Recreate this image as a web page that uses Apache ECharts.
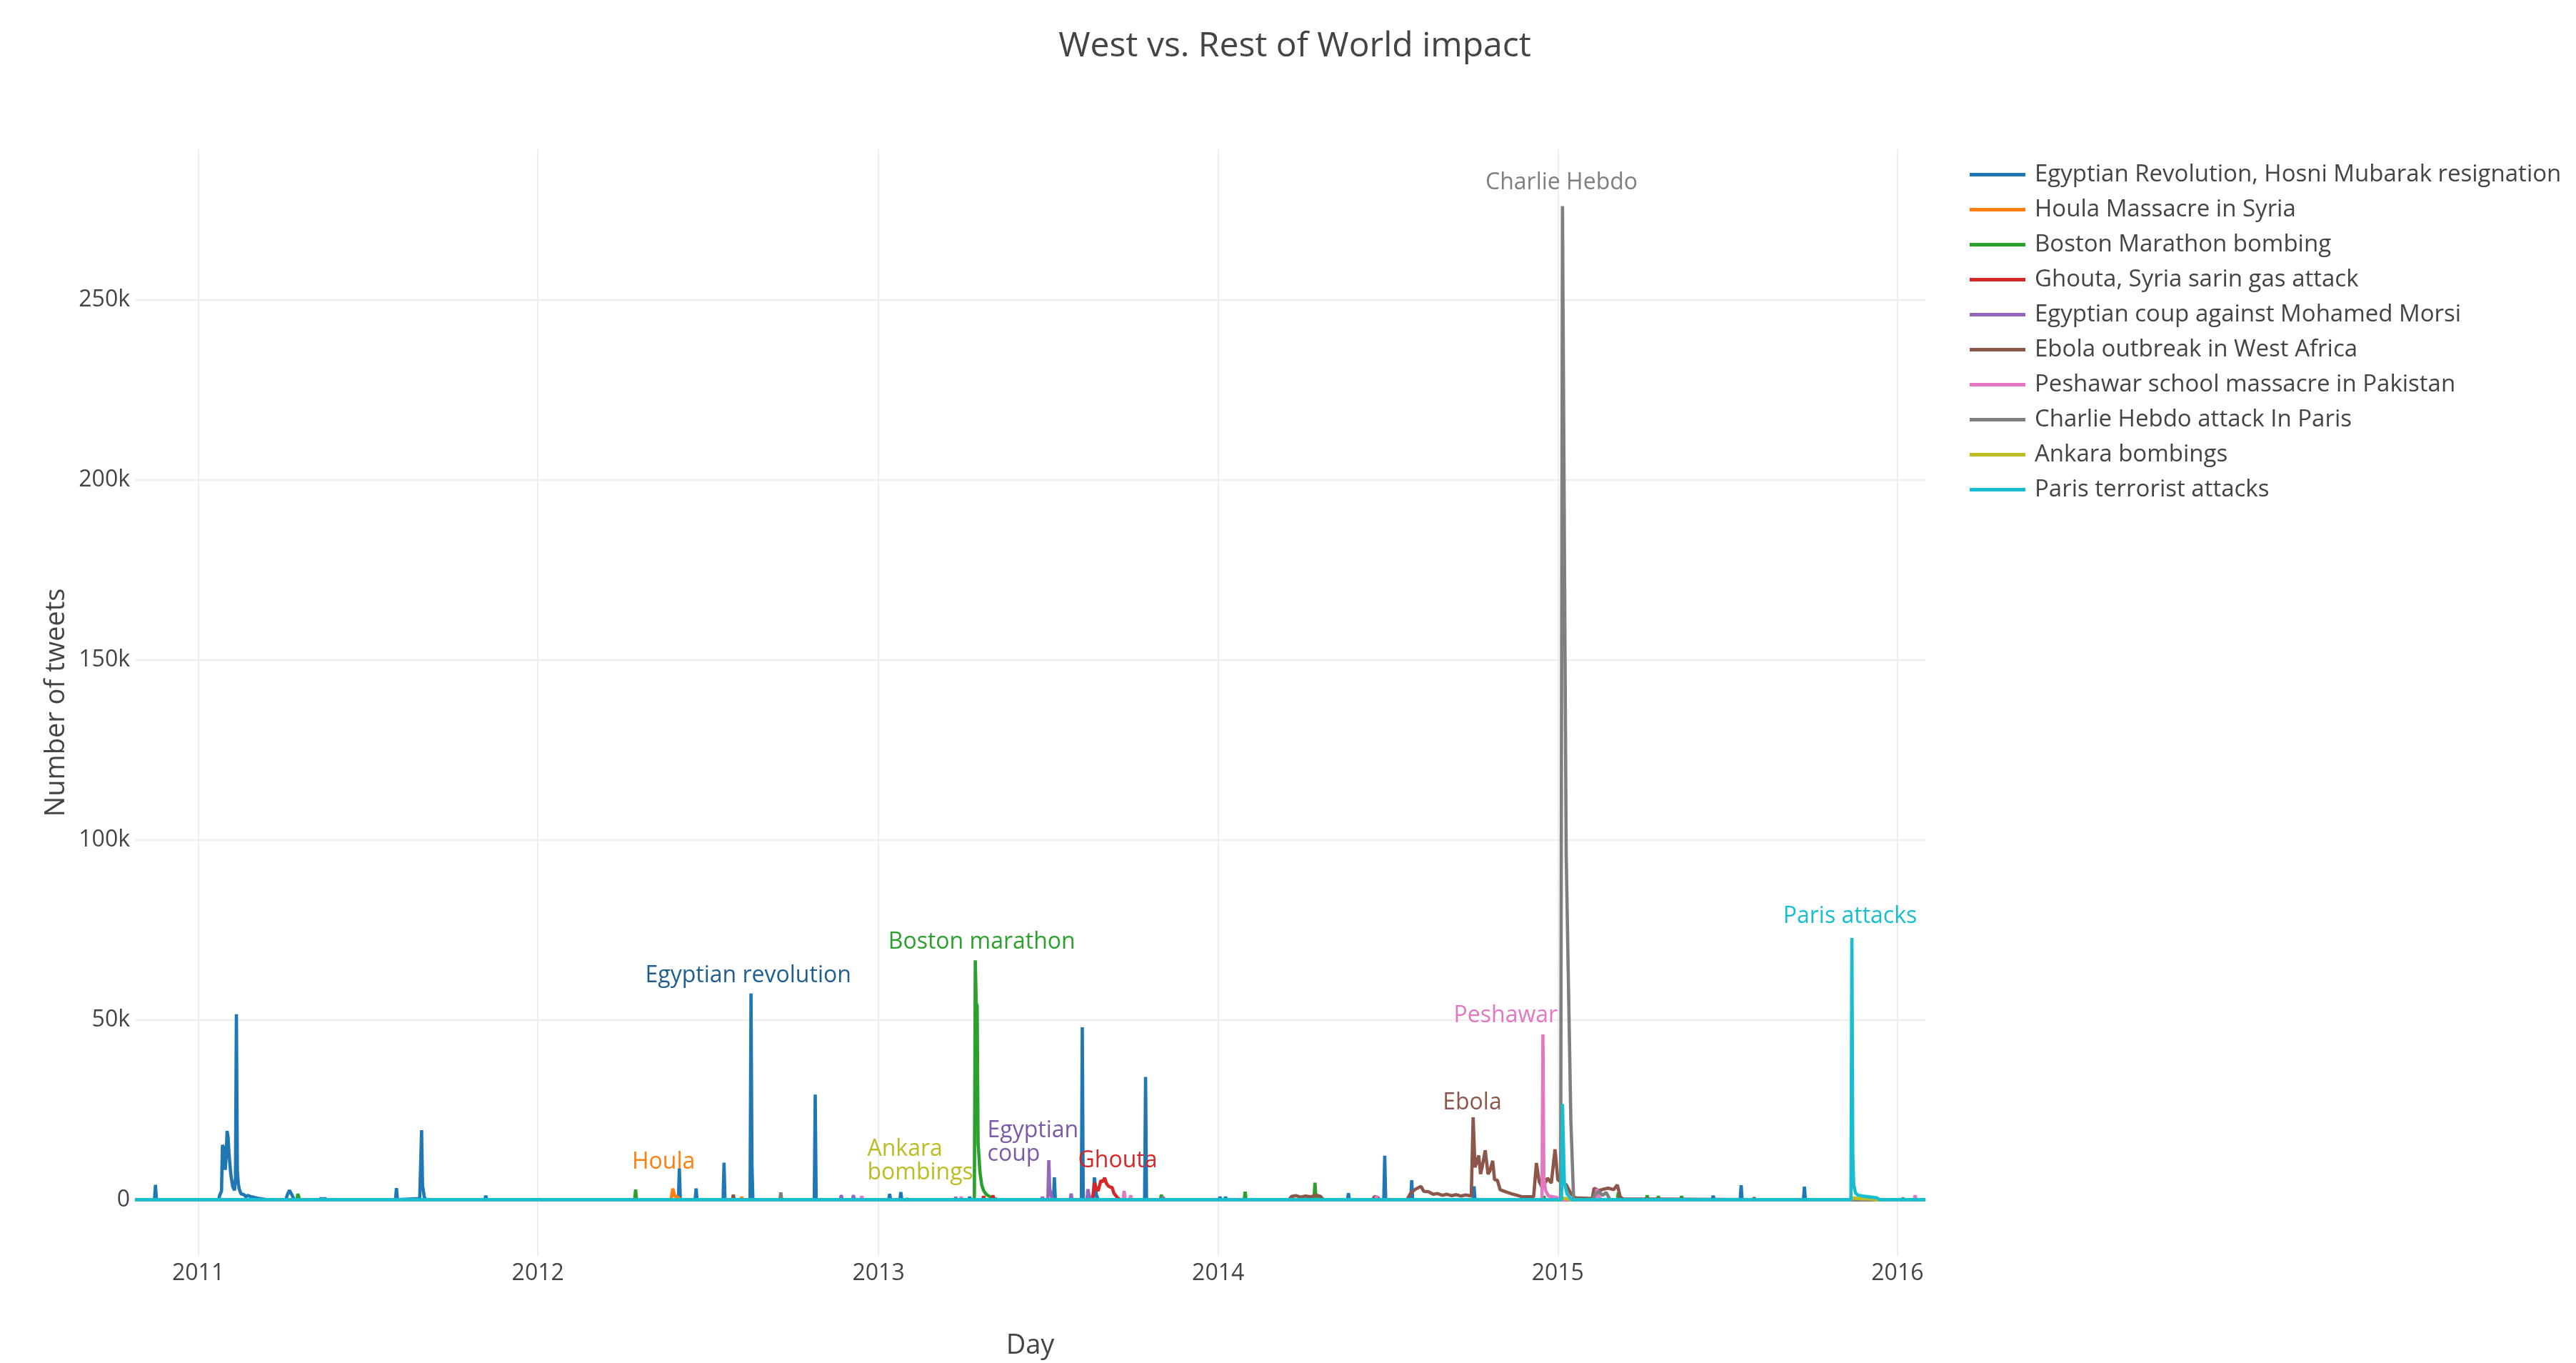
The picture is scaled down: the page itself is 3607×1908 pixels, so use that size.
<!DOCTYPE html>
<html>
<head>
<meta charset="utf-8">
<script src="https://cdn.jsdelivr.net/npm/echarts@6/dist/echarts.min.js"></script>
<style>
html,body{margin:0;padding:0;background:#fff;}
#chart{width:3607px;height:1908px;}
</style>
</head>
<body>
<div id="chart"></div>
<script>
// ---------------- DATA ----------------
const seriesNames = [
  'Egyptian Revolution, Hosni Mubarak resignation',
  'Houla Massacre in Syria',
  'Boston Marathon bombing',
  'Ghouta, Syria sarin gas attack',
  'Egyptian coup against Mohamed Morsi',
  'Ebola outbreak in West Africa',
  'Peshawar school massacre in Pakistan',
  'Charlie Hebdo attack In Paris',
  'Ankara bombings',
  'Paris terrorist attacks'
];

const egyptRevolution = [
  ['2010-10-25',0],
  ['2010-11-15',0],['2010-11-16',4100],['2010-11-17',0],
  ['2011-01-23',0],['2011-01-24',1200],['2011-01-26',2400],['2011-01-27',15200],['2011-01-28',14600],['2011-01-30',8300],['2011-01-31',12000],['2011-02-01',19100],['2011-02-02',17500],['2011-02-03',13000],['2011-02-05',7000],['2011-02-07',3700],['2011-02-09',2600],['2011-02-10',6000],['2011-02-11',51500],['2011-02-12',8300],['2011-02-13',4500],['2011-02-14',3000],['2011-02-16',1600],['2011-02-19',1400],['2011-02-21',800],['2011-02-23',1200],['2011-02-27',800],['2011-03-08',300],['2011-03-15',0],
  ['2011-04-05',0],['2011-04-07',1500],['2011-04-09',2600],['2011-04-10',2800],['2011-04-12',1200],['2011-04-14',0],
  ['2011-05-12',0],['2011-05-13',500],['2011-05-14',0],['2011-05-16',0],['2011-05-17',500],['2011-05-18',0],
  ['2011-08-01',0],['2011-08-02',3200],['2011-08-03',0],
  ['2011-08-27',300],['2011-08-29',19300],['2011-08-30',4000],['2011-09-01',600],['2011-09-03',0],
  ['2011-11-05',0],['2011-11-06',1100],['2011-11-07',0],
  ['2012-05-31',0],['2012-06-01',8700],['2012-06-02',0],
  ['2012-06-18',0],['2012-06-19',3100],['2012-06-20',0],
  ['2012-07-18',0],['2012-07-19',10300],['2012-07-20',0],
  ['2012-08-16',0],['2012-08-17',57300],['2012-08-18',10000],['2012-08-19',0],
  ['2012-10-24',0],['2012-10-25',29200],['2012-10-26',0],
  ['2013-01-12',0],['2013-01-13',1600],['2013-01-14',0],['2013-01-24',0],['2013-01-25',2100],['2013-01-26',0],
  ['2013-04-08',0],['2013-04-09',800],['2013-04-10',0],
  ['2013-07-08',0],['2013-07-09',6200],['2013-07-10',0],
  ['2013-08-07',0],['2013-08-08',47900],['2013-08-09',0],
  ['2013-08-20',0],['2013-08-21',6200],['2013-08-23',1500],['2013-08-25',0],
  ['2013-10-14',0],['2013-10-15',34100],['2013-10-16',0],
  ['2014-01-02',0],['2014-01-03',800],['2014-01-04',0],['2014-01-08',0],['2014-01-09',800],['2014-01-10',0],
  ['2014-05-20',0],['2014-05-21',1800],['2014-05-22',0],
  ['2014-06-28',0],['2014-06-29',12200],['2014-06-30',0],
  ['2014-07-27',0],['2014-07-28',5400],['2014-07-29',0],
  ['2014-10-02',0],['2014-10-03',3700],['2014-10-04',0],
  ['2015-06-16',0],['2015-06-17',1100],['2015-06-18',0],
  ['2015-07-16',0],['2015-07-17',4000],['2015-07-18',0],
  ['2015-09-22',0],['2015-09-23',3600],['2015-09-24',0],
  ['2016-01-31',0]
];

const houlaMassacre = [
  ['2010-10-25',0],
  ['2012-05-23',0],['2012-05-25',3100],['2012-05-27',1000],['2012-05-30',800],['2012-06-02',0],
  ['2012-08-06',0],['2012-08-07',800],['2012-08-08',0],
  ['2016-01-31',0]
];

const bostonMarathon = [
  ['2010-10-25',0],
  ['2011-04-17',0],['2011-04-18',1600],['2011-04-20',0],
  ['2012-04-14',0],['2012-04-15',2800],['2012-04-16',0],
  ['2013-04-14',0],['2013-04-15',66500],['2013-04-16',54500],['2013-04-17',54000],['2013-04-18',15600],['2013-04-19',12000],['2013-04-20',7700],['2013-04-22',4000],['2013-04-24',2500],['2013-04-27',1400],['2013-05-03',500],['2013-05-10',0],
  ['2013-10-31',0],['2013-11-01',1400],['2013-11-02',0],
  ['2014-01-29',0],['2014-01-30',2200],['2014-01-31',0],
  ['2014-04-14',0],['2014-04-15',4700],['2014-04-16',800],['2014-04-17',1500],['2014-04-18',0],
  ['2014-12-16',0],['2014-12-17',1000],['2014-12-18',0],
  ['2015-03-06',0],['2015-03-07',2000],['2015-03-08',0],
  ['2015-04-06',0],['2015-04-07',1200],['2015-04-08',0],['2015-04-18',0],['2015-04-19',1000],['2015-04-20',0],
  ['2015-05-13',0],['2015-05-14',1000],['2015-05-15',0],
  ['2016-01-31',0]
];

const ghoutaAttack = [
  ['2010-10-25',0],
  ['2013-04-23',0],['2013-04-24',1000],['2013-04-25',0],['2013-05-03',0],['2013-05-04',1200],['2013-05-05',0],
  ['2013-08-19',0],['2013-08-21',4700],['2013-08-23',3000],['2013-08-25',2500],['2013-08-28',5300],['2013-08-30',5000],['2013-09-01',6100],['2013-09-03',4500],['2013-09-05',3800],['2013-09-07',3500],['2013-09-09',3400],['2013-09-11',1800],['2013-09-15',500],['2013-09-18',0],
  ['2016-01-31',0]
];

const egyptCoup = [
  ['2010-10-25',0],
  ['2012-11-21',0],['2012-11-22',1300],['2012-11-23',0],['2012-12-04',0],['2012-12-05',1300],['2012-12-06',0],
  ['2013-03-24',0],['2013-03-25',700],['2013-03-26',0],
  ['2013-06-25',0],['2013-06-26',700],['2013-06-28',0],
  ['2013-07-02',0],['2013-07-03',11000],['2013-07-04',3000],['2013-07-06',800],['2013-07-08',0],
  ['2013-07-26',0],['2013-07-27',1700],['2013-07-28',0],
  ['2013-08-13',0],['2013-08-14',2900],['2013-08-15',1500],['2013-08-17',0],
  ['2013-11-02',0],['2013-11-03',800],['2013-11-04',0],
  ['2016-01-31',0]
];

const ebolaOutbreak = [
  ['2010-10-25',0],
  ['2012-07-28',0],['2012-07-29',1400],['2012-07-30',0],
  ['2014-03-18',0],['2014-03-21',900],['2014-03-26',1100],['2014-03-31',700],['2014-04-05',1000],['2014-04-10',800],['2014-04-16',1200],['2014-04-21',900],['2014-04-24',0],
  ['2014-06-16',0],['2014-06-18',900],['2014-06-21',700],['2014-06-24',0],
  ['2014-07-23',0],['2014-07-27',1900],['2014-08-01',2900],['2014-08-07',3700],['2014-08-10',2300],['2014-08-15',2200],['2014-08-20',1500],['2014-08-25',1700],['2014-08-30',1200],['2014-09-04',1500],['2014-09-09',1100],['2014-09-14',1400],['2014-09-19',1000],['2014-09-24',1300],['2014-09-30',1000],
  ['2014-10-02',22900],['2014-10-04',9000],['2014-10-06',10500],['2014-10-08',12300],['2014-10-10',7100],['2014-10-12',9500],['2014-10-15',13700],['2014-10-18',7100],['2014-10-20',8000],['2014-10-23',10800],['2014-10-25',5600],['2014-10-28',5400],['2014-10-31',2800],['2014-11-06',2200],['2014-11-14',1500],['2014-11-24',800],['2014-12-06',800],
  ['2014-12-09',10200],['2014-12-12',5000],['2014-12-15',3500],['2014-12-18',4500],['2014-12-21',6000],['2014-12-25',4600],['2014-12-29',14000],['2015-01-01',5500],['2015-01-05',4800],['2015-01-10',4200],['2015-01-15',1700],['2015-01-20',500],['2015-02-07',300],
  ['2015-02-09',3200],['2015-02-14',2500],['2015-02-19',2900],['2015-02-24',3200],['2015-03-02',2800],['2015-03-06',4100],['2015-03-09',800],['2015-03-12',200],
  ['2015-07-30',0],['2015-07-31',600],['2015-08-01',0],
  ['2016-01-31',0]
];

const peshawarMassacre = [
  ['2010-10-25',0],
  ['2012-12-13',0],['2012-12-14',1000],['2012-12-15',0],
  ['2013-03-30',0],['2013-03-31',800],['2013-04-01',0],
  ['2013-09-21',0],['2013-09-22',2400],['2013-09-23',0],['2013-09-28',0],['2013-09-29',1200],['2013-09-30',0],
  ['2014-06-19',0],['2014-06-20',1000],['2014-06-21',0],
  ['2014-12-15',0],['2014-12-16',45900],['2014-12-17',5500],['2014-12-19',2500],['2014-12-22',1000],['2014-12-31',600],['2015-01-03',0],
  ['2015-02-10',0],['2015-02-12',3000],['2015-02-14',800],['2015-02-17',0],
  ['2016-01-19',0],['2016-01-20',1200],['2016-01-21',0],
  ['2016-01-31',0]
];

const charlieHebdo = [
  ['2010-10-25',0],
  ['2012-09-17',0],['2012-09-18',2000],['2012-09-19',0],
  ['2015-01-04',0],['2015-01-06',276000],['2015-01-10',96000],['2015-01-12',66000],['2015-01-15',22000],['2015-01-18',0],
  ['2015-02-08',0],['2015-02-10',1500],['2015-02-14',2300],['2015-02-18',1200],['2015-02-22',2000],['2015-02-26',0],
  ['2016-01-06',0],['2016-01-07',500],['2016-01-08',0],
  ['2016-01-31',0]
];

const ankaraBombings = [
  ['2010-10-25',0],
  ['2013-01-31',0],['2013-02-01',400],['2013-02-02',0],
  ['2015-01-04',0],['2015-01-06',400],['2015-01-10',300],['2015-01-14',0],
  ['2015-11-12',0],['2015-11-14',500],['2015-11-20',300],['2015-12-05',200],['2015-12-09',0],
  ['2016-01-31',0]
];

const parisAttacks = [
  ['2010-10-25',0],
  ['2015-01-05',0],['2015-01-06',26600],['2015-01-08',4800],['2015-01-11',1500],['2015-01-16',0],
  ['2015-11-12',0],['2015-11-13',72700],['2015-11-14',12000],['2015-11-15',4000],['2015-11-17',1800],['2015-11-20',1200],['2015-11-25',1000],['2015-12-01',800],['2015-12-10',500],['2015-12-13',0],
  ['2016-01-31',0]
];

const seriesColors = ['#1f77b4','#ff7f0e','#2ca02c','#d62728','#9467bd','#8c564b','#e377c2','#7f7f7f','#bcbd22','#17becf'];

const yearTickLabels = ['2011','2012','2013','2014','2015','2016'];
const yTickValues = [0, 50000, 100000, 150000, 200000, 250000];
const xRange = ['2010-10-25', '2016-01-31'];
const yRange = [-15600, 291800];

// annotation per series (same order as series)
const annotationTexts  = ['Egyptian revolution','Houla','Boston marathon','Ghouta','Egyptian\ncoup','Ebola','Peshawar','Charlie Hebdo','Ankara\nbombings','Paris attacks'];
const annotationDates  = ['2012-08-14','2012-05-15','2013-04-22','2013-09-15','2013-04-28','2014-10-01','2014-11-06','2015-01-05','2012-12-20','2015-11-11'];
const annotationValues = [62300, 10500, 71500, 10900, 15800, 26900, 51100, 282500, 10700, 78700];
const annotationColors = ['#1f5f8f','#ff7f0e','#2ca02c','#d62728','#7b5aa6','#8c564b','#e377c2','#7f7f7f','#bcbd22','#17becf'];
const annotationAlign  = ['center','center','center','center','left','center','center','center','left','center'];

// ---------------- CHART ----------------
const FONT = '"Open Sans", verdana, arial, sans-serif';
const toTime = s => { const p = s.split('-').map(Number); return Date.UTC(p[0], p[1]-1, p[2]); };
const yearTicks = yearTickLabels.map(y => toTime(y + '-01-01'));
const allData = [egyptRevolution, houlaMassacre, bostonMarathon, ghoutaAttack, egyptCoup, ebolaOutbreak, peshawarMassacre, charlieHebdo, ankaraBombings, parisAttacks];

const series = seriesNames.map((name, i) => ({
  name: name,
  type: 'line',
  data: allData[i].map(d => [toTime(d[0]), d[1]]),
  showSymbol: false,
  symbol: 'none',
  color: seriesColors[i],
  lineStyle: { width: 4.6, color: seriesColors[i] },
  emphasis: { disabled: true },
  animation: false,
  markPoint: {
    symbol: 'circle',
    symbolSize: 1,
    itemStyle: { color: 'rgba(0,0,0,0)' },
    animation: false,
    silent: true,
    data: [{
      coord: [toTime(annotationDates[i]), annotationValues[i]],
      label: {
        show: true,
        position: 'inside',
        formatter: annotationTexts[i],
        color: annotationColors[i],
        fontSize: 32,
        fontFamily: FONT,
        lineHeight: 33,
        align: annotationAlign[i],
        verticalAlign: 'middle'
      }
    }]
  }
}));

const chart = echarts.init(document.getElementById('chart'), null, { renderer: 'canvas' });
chart.setOption({
  backgroundColor: '#fff',
  animation: false,
  title: {
    text: 'West vs. Rest of World impact',
    left: 1808,
    textAlign: 'center',
    top: 36,
    textStyle: { fontSize: 48, fontWeight: 'normal', color: '#444', fontFamily: FONT }
  },
  legend: {
    orient: 'vertical',
    left: 2758,
    top: 220,
    padding: 0,
    itemGap: 0,
    itemWidth: 78,
    itemHeight: 5,
    icon: 'rect',
    data: seriesNames,
    textStyle: { fontSize: 33, color: '#444', fontFamily: FONT, lineHeight: 49, padding: [0, 0, 0, 8] }
  },
  grid: { left: 189, right: 911, top: 209, bottom: 140, containLabel: false },
  xAxis: {
    type: 'value',
    min: toTime(xRange[0]),
    max: toTime(xRange[1]),
    name: 'Day',
    nameLocation: 'middle',
    nameGap: 107,
    nameTextStyle: { fontSize: 38, color: '#444', fontFamily: FONT },
    axisLine: { show: false },
    axisTick: { show: false, customValues: yearTicks },
    axisLabel: {
      customValues: yearTicks,
      formatter: v => yearTickLabels[yearTicks.indexOf(v)],
      fontSize: 32, color: '#444', fontFamily: FONT, margin: 9
    },
    splitLine: { show: true, lineStyle: { color: '#eeeeee', width: 2.3 } }
  },
  yAxis: {
    type: 'value',
    min: yRange[0],
    max: yRange[1],
    name: 'Number of tweets',
    nameLocation: 'middle',
    nameGap: 91,
    nameRotate: 90,
    nameTextStyle: { fontSize: 38, color: '#444', fontFamily: FONT },
    axisLine: { show: false },
    axisTick: { show: false, customValues: yTickValues },
    axisLabel: {
      customValues: yTickValues,
      formatter: v => v === 0 ? '0' : (v / 1000) + 'k',
      fontSize: 32, color: '#444', fontFamily: FONT, margin: 7
    },
    splitLine: { show: true, lineStyle: { color: '#eeeeee', width: 2.3 } }
  },
  series: series
});
</script>
</body>
</html>
